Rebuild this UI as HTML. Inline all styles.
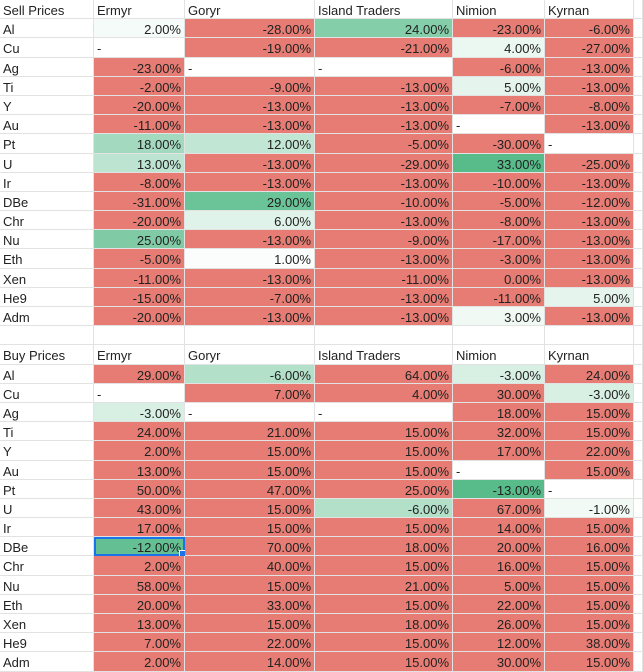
<!DOCTYPE html><html><head><style>
body{margin:0;width:643px;height:672px;overflow:hidden;background:#fff;font-family:"Liberation Sans",Arial,sans-serif;font-size:13px;color:#222}
.g{display:grid;grid-template-columns:94px 91px 130px 138px 92px 89px 9px;grid-template-rows:repeat(35,19.2px)}
.g div{box-sizing:border-box;border-right:1px solid #e2e2e2;border-bottom:1px solid #e2e2e2;padding:2px 3px 0 3px;line-height:18px;white-space:nowrap;overflow:visible;text-align:right;position:relative}
.g div.l{text-align:left}
.r{background:#e67c73}
.sel{outline:2px solid #1a73e8;outline-offset:-2px}
.sel:after{content:"";position:absolute;right:-3px;bottom:-3px;width:6px;height:6px;background:#1a73e8;border:1px solid #fff}
</style></head><body><div class="g">
<div class="l">Sell Prices</div><div class="l">Ermyr</div><div class="l">Goryr</div><div class="l">Island Traders</div><div class="l">Nimion</div><div class="l">Kyrnan</div><div></div>
<div class="l">Al</div><div style="background:#f5fbf8">2.00%</div><div class="r">-28.00%</div><div style="background:#85ceaa">24.00%</div><div class="r">-23.00%</div><div class="r">-6.00%</div><div></div>
<div class="l">Cu</div><div class="l">-</div><div class="r">-19.00%</div><div class="r">-21.00%</div><div style="background:#ebf7f1">4.00%</div><div class="r">-27.00%</div><div></div>
<div class="l">Ag</div><div class="r">-23.00%</div><div class="l">-</div><div class="l">-</div><div class="r">-6.00%</div><div class="r">-13.00%</div><div></div>
<div class="l">Ti</div><div class="r">-2.00%</div><div class="r">-9.00%</div><div class="r">-13.00%</div><div style="background:#e5f5ed">5.00%</div><div class="r">-13.00%</div><div></div>
<div class="l">Y</div><div class="r">-20.00%</div><div class="r">-13.00%</div><div class="r">-13.00%</div><div class="r">-7.00%</div><div class="r">-8.00%</div><div></div>
<div class="l">Au</div><div class="r">-11.00%</div><div class="r">-13.00%</div><div class="r">-13.00%</div><div class="l">-</div><div class="r">-13.00%</div><div></div>
<div class="l">Pt</div><div style="background:#a3dabf">18.00%</div><div style="background:#c2e6d4">12.00%</div><div class="r">-5.00%</div><div class="r">-30.00%</div><div class="l">-</div><div></div>
<div class="l">U</div><div style="background:#bde4d1">13.00%</div><div class="r">-13.00%</div><div class="r">-29.00%</div><div style="background:#57bb8a">33.00%</div><div class="r">-25.00%</div><div></div>
<div class="l">Ir</div><div class="r">-8.00%</div><div class="r">-13.00%</div><div class="r">-13.00%</div><div class="r">-10.00%</div><div class="r">-13.00%</div><div></div>
<div class="l">DBe</div><div class="r">-31.00%</div><div style="background:#6bc398">29.00%</div><div class="r">-10.00%</div><div class="r">-5.00%</div><div class="r">-12.00%</div><div></div>
<div class="l">Chr</div><div class="r">-20.00%</div><div style="background:#e0f3ea">6.00%</div><div class="r">-13.00%</div><div class="r">-8.00%</div><div class="r">-13.00%</div><div></div>
<div class="l">Nu</div><div style="background:#80cba6">25.00%</div><div class="r">-13.00%</div><div class="r">-9.00%</div><div class="r">-17.00%</div><div class="r">-13.00%</div><div></div>
<div class="l">Eth</div><div class="r">-5.00%</div><div style="background:#fafdfb">1.00%</div><div class="r">-13.00%</div><div class="r">-3.00%</div><div class="r">-13.00%</div><div></div>
<div class="l">Xen</div><div class="r">-11.00%</div><div class="r">-13.00%</div><div class="r">-11.00%</div><div class="r">0.00%</div><div class="r">-13.00%</div><div></div>
<div class="l">He9</div><div class="r">-15.00%</div><div class="r">-7.00%</div><div class="r">-13.00%</div><div class="r">-11.00%</div><div style="background:#e5f5ed">5.00%</div><div></div>
<div class="l">Adm</div><div class="r">-20.00%</div><div class="r">-13.00%</div><div class="r">-13.00%</div><div style="background:#f0f9f4">3.00%</div><div class="r">-13.00%</div><div></div>
<div></div><div></div><div></div><div></div><div></div><div></div><div></div>
<div class="l">Buy Prices</div><div class="l">Ermyr</div><div class="l">Goryr</div><div class="l">Island Traders</div><div class="l">Nimion</div><div class="l">Kyrnan</div><div></div>
<div class="l">Al</div><div class="r">29.00%</div><div style="background:#b2e0c9">-6.00%</div><div class="r">64.00%</div><div style="background:#d8efe4">-3.00%</div><div class="r">24.00%</div><div></div>
<div class="l">Cu</div><div class="l">-</div><div class="r">7.00%</div><div class="r">4.00%</div><div class="r">30.00%</div><div style="background:#d8efe4">-3.00%</div><div></div>
<div class="l">Ag</div><div style="background:#d8efe4">-3.00%</div><div class="l">-</div><div class="l">-</div><div class="r">18.00%</div><div class="r">15.00%</div><div></div>
<div class="l">Ti</div><div class="r">24.00%</div><div class="r">21.00%</div><div class="r">15.00%</div><div class="r">32.00%</div><div class="r">15.00%</div><div></div>
<div class="l">Y</div><div class="r">2.00%</div><div class="r">15.00%</div><div class="r">15.00%</div><div class="r">17.00%</div><div class="r">22.00%</div><div></div>
<div class="l">Au</div><div class="r">13.00%</div><div class="r">15.00%</div><div class="r">15.00%</div><div class="l">-</div><div class="r">15.00%</div><div></div>
<div class="l">Pt</div><div class="r">50.00%</div><div class="r">47.00%</div><div class="r">25.00%</div><div style="background:#57bb8a">-13.00%</div><div class="l">-</div><div></div>
<div class="l">U</div><div class="r">43.00%</div><div class="r">15.00%</div><div style="background:#b2e0c9">-6.00%</div><div class="r">67.00%</div><div style="background:#f2faf6">-1.00%</div><div></div>
<div class="l">Ir</div><div class="r">17.00%</div><div class="r">15.00%</div><div class="r">15.00%</div><div class="r">14.00%</div><div class="r">15.00%</div><div></div>
<div class="l">DBe</div><div class="sel" style="background:#64c093">-12.00%</div><div class="r">70.00%</div><div class="r">18.00%</div><div class="r">20.00%</div><div class="r">16.00%</div><div></div>
<div class="l">Chr</div><div class="r">2.00%</div><div class="r">40.00%</div><div class="r">15.00%</div><div class="r">16.00%</div><div class="r">15.00%</div><div></div>
<div class="l">Nu</div><div class="r">58.00%</div><div class="r">15.00%</div><div class="r">21.00%</div><div class="r">5.00%</div><div class="r">15.00%</div><div></div>
<div class="l">Eth</div><div class="r">20.00%</div><div class="r">33.00%</div><div class="r">15.00%</div><div class="r">22.00%</div><div class="r">15.00%</div><div></div>
<div class="l">Xen</div><div class="r">13.00%</div><div class="r">15.00%</div><div class="r">18.00%</div><div class="r">26.00%</div><div class="r">15.00%</div><div></div>
<div class="l">He9</div><div class="r">7.00%</div><div class="r">22.00%</div><div class="r">15.00%</div><div class="r">12.00%</div><div class="r">38.00%</div><div></div>
<div class="l">Adm</div><div class="r">2.00%</div><div class="r">14.00%</div><div class="r">15.00%</div><div class="r">30.00%</div><div class="r">15.00%</div><div></div>
</div></body></html>
